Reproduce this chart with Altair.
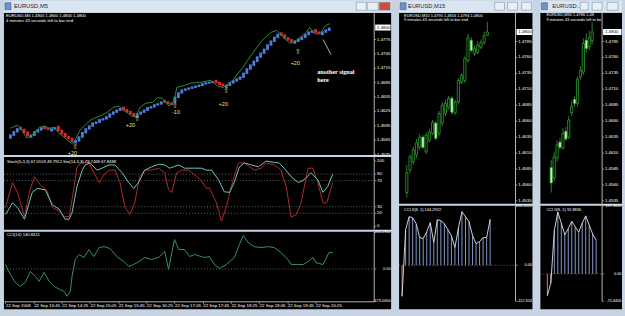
import json
import altair as alt
import pandas as pd

FONT = "Liberation Sans"
SYM = "DejaVu Sans"
SERIF = "Liberation Serif"
BG = "#c7d4e3"
TBAR = "#dbe5f1"
BORDER = "#b4b4b4"
WHITE = "#ffffff"
CANDLE = "#35b535"

# ============================ data ============================
# --- EURUSD M5 (left window, Heiken-Ashi bars); bar index 0 = 22 Sep 13:05 ---
m5_open = [1.4568, 1.4574, 1.4581, 1.4593, 1.4589, 1.4583, 1.4570, 1.4574, 1.4581, 1.4585,
           1.4595, 1.4591, 1.4583, 1.4587, 1.4595, 1.4587, 1.4580, 1.4574, 1.4570, 1.4558,
           1.4562, 1.4570, 1.4579, 1.4587, 1.4593, 1.4599, 1.4601, 1.4606, 1.4608, 1.4612,
           1.4618, 1.4622, 1.4626, 1.4635, 1.4630, 1.4626, 1.4622, 1.4612, 1.4618, 1.4622,
           1.4626, 1.4631, 1.4633, 1.4637, 1.4639, 1.4649, 1.4646, 1.4643, 1.4642, 1.4653,
           1.4662, 1.4668, 1.4670, 1.4672, 1.4674, 1.4676, 1.4678, 1.4681, 1.4683, 1.4684,
           1.4691, 1.4687, 1.4683, 1.4674, 1.4678, 1.4683, 1.4687, 1.4691, 1.4695, 1.4703,
           1.4712, 1.4720, 1.4728, 1.4737, 1.4745, 1.4753, 1.4762, 1.4770, 1.4778, 1.4790,
           1.4786, 1.4780, 1.4776, 1.4766, 1.4770, 1.4774, 1.4778, 1.4784, 1.4789, 1.4797,
           1.4792, 1.4784, 1.4789, 1.4793]
m5_close = [1.4577, 1.4584, 1.4590, 1.4586, 1.4580, 1.4573, 1.4577, 1.4584, 1.4588, 1.4592,
            1.4588, 1.4586, 1.4590, 1.4592, 1.4584, 1.4577, 1.4571, 1.4567, 1.4561, 1.4565,
            1.4573, 1.4582, 1.4590, 1.4596, 1.4602, 1.4604, 1.4609, 1.4611, 1.4615, 1.4621,
            1.4625, 1.4629, 1.4632, 1.4627, 1.4623, 1.4619, 1.4615, 1.4621, 1.4625, 1.4629,
            1.4634, 1.4636, 1.4640, 1.4642, 1.4646, 1.4643, 1.4640, 1.4638, 1.4656, 1.4665,
            1.4671, 1.4673, 1.4675, 1.4677, 1.4679, 1.4681, 1.4684, 1.4686, 1.4687, 1.4688,
            1.4684, 1.4680, 1.4677, 1.4681, 1.4686, 1.4690, 1.4694, 1.4698, 1.4706, 1.4715,
            1.4723, 1.4731, 1.4740, 1.4748, 1.4756, 1.4765, 1.4773, 1.4781, 1.4787, 1.4783,
            1.4777, 1.4773, 1.4769, 1.4773, 1.4777, 1.4781, 1.4787, 1.4792, 1.4794, 1.4789,
            1.4787, 1.4792, 1.4796, 1.4800]
m5_green_t = [0.0, 2.0, 2.8, 4.8, 6.2, 7.1, 8.5, 9.9, 11.3, 12.7, 14.1, 16.7, 18.1, 18.9,
              20.3, 21.8, 23.2, 24.6, 26.6, 28.2, 30.2, 31.6, 33.1, 35.0, 36.4, 37.9, 39.5,
              41.5, 42.9, 44.4, 46.3, 47.7, 48.6, 50.6, 52.8, 55.6, 58.5, 60.5, 62.1, 64.9,
              67.8, 70.6, 73.4, 76.0, 77.7, 79.7, 81.6, 83.3, 85.9, 87.3, 88.7, 90.4, 91.8, 93.2]
m5_green_p = [1.4590, 1.4596, 1.4592, 1.4569, 1.4575, 1.4582, 1.4592, 1.4594, 1.4590, 1.4592,
              1.4580, 1.4565, 1.4557, 1.4565, 1.4586, 1.4596, 1.4606, 1.4611, 1.4617, 1.4623,
              1.4634, 1.4636, 1.4627, 1.4617, 1.4613, 1.4634, 1.4642, 1.4644, 1.4654, 1.4652,
              1.4636, 1.4648, 1.4675, 1.4679, 1.4684, 1.4686, 1.4690, 1.4677, 1.4675, 1.4690,
              1.4717, 1.4746, 1.4773, 1.4790, 1.4794, 1.4779, 1.4767, 1.4773, 1.4787, 1.4800,
              1.4787, 1.4787, 1.4804, 1.4808]
m5_sig_t = [18.9, 37.0, 48.0, 62.9, 83.9]
m5_sig_p = [1.4550, 1.4609, 1.4636, 1.4667, 1.4750]
m5_pip_t = [18.1, 35.0, 48.3, 62.1, 83.1]
m5_pip_p = [1.4538, 1.4596, 1.4623, 1.4640, 1.4727]
m5_pip_txt = ["+20", "+20", "-10", "+20", "+20"]
m5_note_t = [89.5, 89.5]
m5_note_p = [1.4708, 1.4690]
m5_note_txt = ["another signal", "here"]
m5_pointer_t = [91.2, 93.5]
m5_pointer_p = [1.4775, 1.4744]
m5_price_ticks = [1.4535, 1.4565, 1.4595, 1.4625, 1.4655, 1.4685, 1.4715, 1.4745, 1.4775]
m5_time_ticks = [0, 8, 16, 24, 32, 40, 48, 56, 64, 72, 80, 88]
m5_time_labels = ["22 Sep 2008", "22 Sep 13:45", "22 Sep 14:25", "22 Sep 15:05",
                  "22 Sep 15:45", "22 Sep 16:25", "22 Sep 17:05", "22 Sep 17:45",
                  "22 Sep 18:25", "22 Sep 19:05", "22 Sep 19:45", "22 Sep 20:25"]

sto14_t = [0.0, 2.0, 3.4, 5.4, 7.6, 9.0, 11.3, 13.3, 15.3, 16.9, 18.1, 18.9, 20.3, 21.8,
           22.6, 24.0, 26.0, 27.4, 29.4, 31.1, 33.1, 35.0, 36.4, 37.9, 39.5, 41.5, 43.5,
           45.2, 46.6, 47.7, 49.2, 50.8, 53.4, 55.6, 57.1, 58.5, 60.5, 62.1, 63.6, 65.0,
           66.4, 67.8, 69.8, 71.8, 74.0, 76.0, 77.7, 79.1, 81.1, 83.1, 84.7, 86.7, 88.7,
           90.1, 91.5, 92.9]
sto14_v = [18, 36, 29, 11, 52, 58, 56, 33, 26, 11, 11, 21, 61, 86, 94, 97, 86, 89, 94, 94,
           82, 67, 58, 68, 86, 91, 95, 94, 89, 91, 94, 89, 89, 89, 86, 86, 71, 53, 52, 68,
           91, 97, 94, 91, 100, 98, 97, 89, 76, 67, 71, 82, 71, 52, 61, 80]
sto5_t = [0.0, 2.0, 3.4, 5.4, 6.8, 8.2, 9.9, 11.9, 13.3, 15.3, 16.7, 18.1, 19.5, 20.3, 21.8,
          23.7, 25.4, 26.6, 28.0, 29.4, 31.1, 32.5, 33.9, 35.3, 36.7, 38.1, 39.5, 41.5, 43.5,
          45.2, 46.3, 47.2, 48.6, 50.0, 52.0, 53.7, 55.6, 57.1, 57.9, 59.9, 61.3, 62.7, 64.1,
          66.1, 67.8, 70.6, 72.6, 74.0, 76.3, 78.2, 79.7, 81.1, 82.5, 83.9, 85.9, 87.3, 88.7,
          90.1, 91.2, 92.9]
sto5_v = [29, 67, 52, 15, 52, 76, 64, 53, 29, 23, 15, 15, 61, 91, 98, 97, 79, 67, 79, 86,
          86, 67, 30, 18, 36, 76, 86, 86, 89, 82, 56, 52, 82, 86, 86, 79, 70, 58, 59, 36,
          8, 30, 61, 97, 97, 86, 89, 97, 94, 86, 61, 14, 18, 36, 89, 89, 67, 36, 36, 67]
sto_levels = [80, 70, 30, 20]
sto_ticks = [0, 20, 30, 70, 80, 100]

cci14_t = [0.0, 1.4, 2.8, 4.2, 5.6, 7.1, 8.5, 9.6, 11.0, 12.4, 13.8, 15.3, 16.7, 17.5, 18.4,
           18.9, 19.8, 20.9, 22.3, 23.7, 25.1, 26.6, 28.0, 29.7, 31.6, 33.6, 35.0, 36.4,
           37.9, 39.5, 41.5, 43.5, 45.2, 46.3, 47.2, 48.0, 49.2, 50.8, 52.3, 53.7, 55.6,
           56.5, 57.9, 59.3, 60.7, 62.7, 65.0, 66.4, 67.5, 68.9, 70.6, 72.6, 74.6, 76.3,
           78.2, 80.2, 81.1, 83.1, 84.5, 85.9, 87.3, 88.1, 90.1, 90.9, 91.8, 92.9]
cci14_v = [24, -29, -72, -93, -72, -13, -40, -66, -18, -66, -93, -109, -120, -146, -120,
           -40, 51, 78, 62, 104, 67, 115, 120, 110, 67, 40, 14, 24, 40, 62, 51, 62, 94, -2,
           88, 158, 104, 104, 67, 78, 67, 62, 67, 24, 3, 24, 62, 131, 179, 142, 120, 115,
           120, 115, 88, 51, 24, 24, 24, 40, 62, 35, 24, 51, 88, 88]
cci14_ticks = [-173, 0, 200.2902]
cci14_tick_labels = ["-173.0000", "0.00", "200.2902"]

# --- EURUSD M15 (middle window); candle 0 = 22 Sep 14:00 ---
m15_open = [1.4548, 1.4583, 1.4596, 1.4607, 1.4619, 1.4635, 1.4612, 1.4630, 1.4641, 1.4657,
            1.4641, 1.4657, 1.4672, 1.4682, 1.4696, 1.4673, 1.4690, 1.4721, 1.4724, 1.4755,
            1.4787, 1.4766, 1.4768, 1.4776, 1.4783, 1.4795]
m15_high = [1.4591, 1.4608, 1.4620, 1.4632, 1.4640, 1.4638, 1.4642, 1.4648, 1.4662, 1.4660,
            1.4676, 1.4690, 1.4694, 1.4700, 1.4699, 1.4694, 1.4728, 1.4736, 1.4762, 1.4797,
            1.4792, 1.4778, 1.4786, 1.4788, 1.4800, 1.4816]
m15_low = [1.4540, 1.4578, 1.4592, 1.4602, 1.4615, 1.4616, 1.4608, 1.4626, 1.4638, 1.4630,
           1.4636, 1.4652, 1.4668, 1.4678, 1.4670, 1.4670, 1.4686, 1.4718, 1.4720, 1.4752,
           1.4768, 1.4762, 1.4765, 1.4773, 1.4780, 1.4794]
m15_close = [1.4579, 1.4604, 1.4615, 1.4626, 1.4635, 1.4619, 1.4638, 1.4643, 1.4658, 1.4633,
             1.4672, 1.4685, 1.4688, 1.4696, 1.4674, 1.4690, 1.4724, 1.4732, 1.4758, 1.4791,
             1.4771, 1.4774, 1.4779, 1.4783, 1.4794, 1.4800]
m15_cci = [-97.3, 111.6, 152.2, 149.1, 130.4, 86.7, 83.6, 105.4, 133.5, 71.1, 142.8, 139.7,
           130.4, 111.6, 93.0, 55.5, 117.9, 167.8, 152.2, 136.6, 93.0, 68.0, 74.2, 86.7,
           86.7, 144.3]
m15_cci_ticks = [-112.924, 0, 186.5021]
m15_cci_tick_labels = ["-112.924", "0.00", "186.5021"]
m15_time_ticks = [0, 8, 16, 24]
m15_time_labels = ["22 Sep 2008", "22 Sep 16:00", "22 Sep 18:00", "22 Sep 20:00"]

# --- EURUSD M30 (right window); candle 0 = 22 Sep 13:00 ---
m30_open = [1.4587, 1.4571, 1.4602, 1.4627, 1.4618, 1.4644, 1.4635, 1.4673, 1.4694, 1.4688,
            1.4729, 1.4737, 1.4787, 1.4777, 1.4786]
m30_high = [1.4599, 1.4612, 1.4630, 1.4633, 1.4649, 1.4651, 1.4668, 1.4693, 1.4699, 1.4730,
            1.4746, 1.4790, 1.4798, 1.4802, 1.4816]
m30_low = [1.4548, 1.4565, 1.4596, 1.4615, 1.4615, 1.4629, 1.4632, 1.4668, 1.4683, 1.4683,
           1.4724, 1.4733, 1.4768, 1.4771, 1.4780]
m30_close = [1.4563, 1.4604, 1.4623, 1.4619, 1.4641, 1.4632, 1.4662, 1.4683, 1.4688, 1.4726,
             1.4740, 1.4782, 1.4774, 1.4791, 1.4800]
m30_cci = [-60, -25, 120, 170, 140, 108, 125, 145, 130, 115, 140, 160, 135, 110, 92.9]
m30_cci_ticks = [-75.6405, 0, 187.9418]
m30_cci_tick_labels = ["-75.6405", "0.00", "187.9418"]
m30_time_ticks = [0, 8]
m30_time_labels = ["22 Sep 2008", "22 Sep 17:00"]

h_price_ticks = [1.4535, 1.4560, 1.4585, 1.4610, 1.4635, 1.4660, 1.4685, 1.4710, 1.4735,
                 1.4760, 1.4785]
last_price = [1.4800]

# ============================ helpers ============================
ONE = pd.DataFrame({"k": [0]})


def sx(dom, pw):
    return alt.Scale(domain=dom, range=[0, pw], nice=False, zero=False)


def sy(dom, ph):
    return alt.Scale(domain=dom, range=[ph, 0], nice=False, zero=False)


def baxis(values, labels, off):
    expr = "%s[indexof(%s, datum.value)]" % (json.dumps(labels), json.dumps(values))
    return alt.Axis(orient="bottom", offset=off, values=values, labelExpr=expr, grid=False,
                    title=None, domainColor=BORDER, domainWidth=1, tickColor=BORDER,
                    tickSize=2, tickWidth=0.7, labelColor=WHITE, labelFont=FONT,
                    labelFontSize=4.4, labelPadding=0.5, labelAlign="left",
                    labelBaseline="top", labelOverlap=False, labelFlush=False)


def yguide(vals, labels, ys_, pw, W, ph, size=4.4, align="left"):
    """price-scale strip on the right of a panel: border line, ticks and labels"""
    d = pd.DataFrame({"v": vals, "s": labels})
    border = alt.Chart(ONE).mark_rule(color=BORDER, strokeWidth=1).encode(
        x=alt.value(pw), y=alt.value(0), y2=alt.value(ph))
    ticks = alt.Chart(d).mark_rule(color=BORDER, strokeWidth=0.7).encode(
        x=alt.value(pw), x2=alt.value(pw + 2), y=alt.Y("v:Q", scale=ys_, axis=None))
    lx = pw + 2.8 if align == "left" else W - 0.5
    txt = alt.Chart(d).mark_text(align=align, baseline="middle", fontSize=size, color=WHITE,
                                 font=FONT).encode(
        x=alt.value(lx), y=alt.Y("v:Q", scale=ys_, axis=None), text="s:N")
    return [border, ticks, txt]


def vrect(x0, x1, y0, y1, fill, stroke=None):
    kw = dict(color=fill)
    if stroke:
        kw.update(stroke=stroke, strokeWidth=0.6)
    return alt.Chart(ONE).mark_rect(**kw).encode(
        x=alt.value(x0), x2=alt.value(x1), y=alt.value(y0), y2=alt.value(y1))


def vtext(x, y, s, size, color, font=FONT):
    return alt.Chart(ONE).mark_text(align="left", baseline="middle", fontSize=size,
                                    color=color, font=font).encode(
        x=alt.value(x), y=alt.value(y), text=alt.value(s))


def chrome(W, title, tx, buttons, close_fill):
    layers = [vrect(0, W, -12, 0, TBAR), vrect(1, 7, -10, -3, "#6d93c9", "#38588a"),
              vtext(tx, -6.3, title, 5.8, "#17263a")]
    for n, (a, b) in enumerate(buttons):
        layers.append(vrect(a, b, -10.5, -2.5, close_fill if n == 2 else "#e9eff6", "#7e90a8"))
    return layers


def price_box(ys_, pw, W):
    d = pd.DataFrame({"p": last_price})
    box = alt.Chart(d).mark_rect(color=WHITE, yOffset=-3, y2Offset=3).encode(
        x=alt.value(pw + 1), x2=alt.value(W - 0.5),
        y=alt.Y("p:Q", scale=ys_, axis=None), y2="p:Q")
    txt = alt.Chart(d).mark_text(align="left", baseline="middle", fontSize=4.4,
                                 color="#000000", font=FONT).encode(
        x=alt.value(pw + 2.8), y=alt.Y("p:Q", scale=ys_, axis=None),
        text=alt.Text("p:Q", format=".4f"))
    return [box, txt]


def candles(o, h, l, c, xs_, ys_):
    d = pd.DataFrame({"t": list(range(len(c))), "o": o, "h": h, "l": l, "c": c})
    wick = alt.Chart(d).mark_rule(color=CANDLE, strokeWidth=0.7).encode(
        x=alt.X("t:Q", scale=xs_, axis=None),
        y=alt.Y("l:Q", scale=ys_, axis=None), y2="h:Q")
    body = alt.Chart(d).mark_bar(size=2.2, stroke=CANDLE, strokeWidth=0.7).encode(
        x=alt.X("t:Q", scale=xs_, axis=None),
        y=alt.Y("o:Q", scale=ys_, axis=None), y2="c:Q",
        color=alt.condition(alt.datum.c >= alt.datum.o, alt.value("#000000"),
                            alt.value("#d6f5cc")))
    return [wick, body]


def cci_hist(vals, xs_, ys_, xaxis, pw):
    d = pd.DataFrame({"t": list(range(len(vals))), "v": vals})
    zero = alt.Chart(pd.DataFrame({"z": [0]})).mark_rule(
        color="#8c8c8c", strokeDash=[1, 2], strokeWidth=0.7).encode(
        x=alt.value(0), x2=alt.value(pw), y=alt.Y("z:Q", scale=ys_, axis=None))
    hist = alt.Chart(d).mark_rule(strokeWidth=1).encode(
        x=alt.X("t:Q", scale=xs_, axis=xaxis),
        y=alt.Y("v:Q", scale=ys_, axis=None), y2=alt.datum(0),
        color=alt.condition(alt.datum.v >= 0, alt.value("#7f97c8"), alt.value("#cf7f86")))
    line = alt.Chart(d).mark_line(color="#e4e4e4", strokeWidth=0.9).encode(
        x=alt.X("t:Q", scale=xs_, axis=None), y=alt.Y("v:Q", scale=ys_, axis=None))
    return [zero, hist, line]


# ============================ left window (M5) ============================
LW, LPW = 389, 372
L_PH, L_SH, L_CH, L_CPH = 143, 73, 78, 70
x5 = sx([-0.42, 104.67], LPW)
y5 = sy([1.4534, 1.4831], L_PH)

m5_df = pd.DataFrame({"t": list(range(len(m5_close))), "o": m5_open, "c": m5_close})
ha = alt.Chart(m5_df).mark_bar(size=2.8).encode(
    x=alt.X("t:Q", scale=x5, axis=None),
    y=alt.Y("o:Q", scale=y5, axis=None),
    y2="c:Q",
    color=alt.condition(alt.datum.c >= alt.datum.o, alt.value("#4a7de2"), alt.value("#e3262a")))
green = alt.Chart(pd.DataFrame({"t": m5_green_t, "p": m5_green_p})).mark_line(
    color="#2a8c3a", strokeWidth=1).encode(
    x=alt.X("t:Q", scale=x5, axis=None), y=alt.Y("p:Q", scale=y5, axis=None))
sig = alt.Chart(pd.DataFrame({"t": m5_sig_t, "p": m5_sig_p})).mark_text(
    font=SYM, fontSize=7, color="#e6dc7a").encode(
    x=alt.X("t:Q", scale=x5, axis=None), y=alt.Y("p:Q", scale=y5, axis=None),
    text=alt.value("\u21e7"))
pips = alt.Chart(pd.DataFrame({"t": m5_pip_t, "p": m5_pip_p, "s": m5_pip_txt})).mark_text(
    font=FONT, fontSize=5.5, color="#eee27a").encode(
    x=alt.X("t:Q", scale=x5, axis=None), y=alt.Y("p:Q", scale=y5, axis=None), text="s:N")
note = alt.Chart(pd.DataFrame({"t": m5_note_t, "p": m5_note_p, "s": m5_note_txt})).mark_text(
    font=SERIF, fontSize=6.2, fontWeight="bold", color=WHITE, align="left").encode(
    x=alt.X("t:Q", scale=x5, axis=None), y=alt.Y("p:Q", scale=y5, axis=None), text="s:N")
pointer = alt.Chart(pd.DataFrame({"t0": [m5_pointer_t[0]], "t1": [m5_pointer_t[1]],
                                  "p0": [m5_pointer_p[0]], "p1": [m5_pointer_p[1]]})).mark_rule(
    color="#dddddd", strokeWidth=0.8).encode(
    x=alt.X("t0:Q", scale=x5, axis=None), x2="t1:Q",
    y=alt.Y("p0:Q", scale=y5, axis=None), y2="p1:Q")

left_price = alt.layer(
    *chrome(LW, "EURUSD,M5", 10, [(354, 364), (365, 376), (377, 388)], "#cf4a3f"),
    ha, green, sig, pips, note, pointer,
    *yguide(m5_price_ticks, [f"{v:.4f}" for v in m5_price_ticks], y5, LPW, LW, L_PH),
    *price_box(y5, LPW, LW),
    vtext(2, 3.7, "EURUSD,M5  1.4800 1.4800 1.4800 1.4800", 4.2, WHITE),
    vtext(2, 8.6, "4 minutes 43 seconds left to bar end", 4.2, WHITE),
).properties(width=LW, height=L_PH)

ysto = sy([-5, 106.1], L_SH)
lev = alt.Chart(pd.DataFrame({"v": sto_levels})).mark_rule(
    color="#8c8c8c", strokeDash=[1, 2], strokeWidth=0.7).encode(
    x=alt.value(0), x2=alt.value(LPW), y=alt.Y("v:Q", scale=ysto, axis=None))
sto_red = alt.Chart(pd.DataFrame({"t": sto5_t, "v": sto5_v})).mark_line(
    color="#b02a2a", strokeWidth=1).encode(
    x=alt.X("t:Q", scale=x5, axis=None), y=alt.Y("v:Q", scale=ysto, axis=None))
sto_cyan = alt.Chart(pd.DataFrame({"t": sto14_t, "v": sto14_v})).mark_line(
    color="#6cc7bf", strokeWidth=1).encode(
    x=alt.X("t:Q", scale=x5, axis=None), y=alt.Y("v:Q", scale=ysto, axis=None))
left_sto = alt.layer(
    lev, sto_red, sto_cyan,
    *yguide(sto_ticks, [str(v) for v in sto_ticks], ysto, LPW, LW, L_SH),
    vtext(3, 5.3, "Stoch(5,3,3) 67.0103 49.7912  Sto(14,3,3) 79.7468 67.8488", 4.2, WHITE),
).properties(width=LW, height=L_SH)

ycci = sy([-173, 200.2902], L_CPH)
cci_zero = alt.Chart(pd.DataFrame({"z": [0]})).mark_rule(
    color="#8c8c8c", strokeDash=[1, 2], strokeWidth=0.7).encode(
    x=alt.value(0), x2=alt.value(LPW), y=alt.Y("z:Q", scale=ycci, axis=None))
cci_line = alt.Chart(pd.DataFrame({"t": cci14_t, "v": cci14_v})).mark_line(
    color="#2f8f7e", strokeWidth=1).encode(
    x=alt.X("t:Q", scale=x5, axis=baxis(m5_time_ticks, m5_time_labels, L_CPH - L_CH)),
    y=alt.Y("v:Q", scale=ycci, axis=None))
left_cci = alt.layer(
    cci_zero, cci_line,
    *yguide(cci14_ticks, cci14_tick_labels, ycci, LPW, LW, L_CPH, size=3.9, align="right"),
    vtext(3, 3.5, "CCI(14) 140.8411", 4.2, WHITE),
).properties(width=LW, height=L_CH)

left = alt.vconcat(left_price, left_sto, left_cci, spacing=2, bounds="flush")

# ============================ middle window (M15) ============================
MW, MPW = 134, 117
H_PH, H_CH, H_CPH = 192, 104, 96
hy = sy([1.45303, 1.48303], H_PH)
x15 = sx([-0.85, 32.2], MPW)
mid_price = alt.layer(
    *chrome(MW, "EURUSD,M15", 9, [(96, 106), (109, 119), (123, 133)], "#e9eff6"),
    *candles(m15_open, m15_high, m15_low, m15_close, x15, hy),
    *yguide(h_price_ticks, [f"{v:.4f}" for v in h_price_ticks], hy, MPW, MW, H_PH),
    *price_box(hy, MPW, MW),
    vtext(5, 3.0, "EURUSD,M15  1.4795 1.4816 1.4794 1.4800", 4.0, WHITE),
    vtext(5, 7.4, "9 minutes 43 seconds left to bar end", 4.0, WHITE),
).properties(width=MW, height=H_PH)
y15c = sy([-112.924, 186.5021], H_CPH)
mid_cci = alt.layer(
    *cci_hist(m15_cci, x15, y15c, baxis(m15_time_ticks, m15_time_labels, H_CPH - H_CH), MPW),
    *yguide(m15_cci_ticks, m15_cci_tick_labels, y15c, MPW, MW, H_CPH, size=3.9, align="right"),
    vtext(5, 4, "CCI II(8, 1) 144.2922", 4.0, WHITE),
).properties(width=MW, height=H_CH)
mid = alt.vconcat(mid_price, mid_cci, spacing=2, bounds="flush")

# ============================ right window (M30) ============================
RW, RPW = 82, 62
x30 = sx([-2.0, 15.71], RPW)
right_price = alt.layer(
    *chrome(RW, "EURUSD...", 12, [(40, 48), (52, 62), (67, 78)], "#e9eff6"),
    *candles(m30_open, m30_high, m30_low, m30_close, x30, hy),
    *yguide(h_price_ticks, [f"{v:.4f}" for v in h_price_ticks], hy, RPW, RW, H_PH),
    *price_box(hy, RPW, RW),
    vtext(6, 2.4, "EURUSD,M30  1.4786 1.48", 4.0, WHITE),
    vtext(6, 7.4, "9 minutes 43 seconds left to ba", 4.0, WHITE),
).properties(width=RW, height=H_PH)
y30c = sy([-75.6405, 187.9418], H_CPH)
right_cci = alt.layer(
    *cci_hist(m30_cci, x30, y30c, baxis(m30_time_ticks, m30_time_labels, H_CPH - H_CH), RPW),
    *yguide(m30_cci_ticks, m30_cci_tick_labels, y30c, RPW, RW, H_CPH, size=3.9, align="right"),
    vtext(6, 4, "CCI II(8, 1) 92.8836", 4.0, WHITE),
).properties(width=RW, height=H_CH)
right = alt.vconcat(right_price, right_cci, spacing=2, bounds="flush")

chart = alt.hconcat(left, mid, right, spacing=7).properties(
    background=BG, padding={"left": 3, "top": 0, "right": 3, "bottom": 6}
).configure_view(fill="#000000", strokeWidth=0)

chart.save("out.html", embed_options={"renderer": "svg", "actions": False})
